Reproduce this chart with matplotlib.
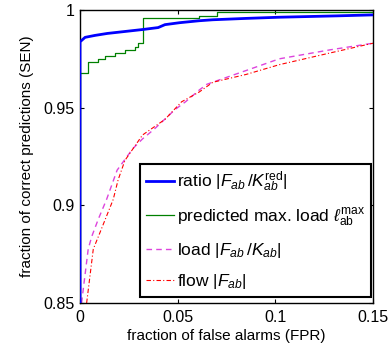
import matplotlib
matplotlib.use("Agg")
import matplotlib.pyplot as plt

plt.rcParams['font.family'] = ['Liberation Sans', 'DejaVu Sans']
plt.rcParams['mathtext.fontset'] = 'custom'
plt.rcParams['mathtext.rm'] = 'Liberation Sans'
plt.rcParams['mathtext.it'] = 'Liberation Sans:italic'
plt.rcParams['mathtext.bf'] = 'Liberation Sans:bold'

# ratio |F_ab / K_ab^red|
ratio_x = [0.0, 0.0, 0.0026, 0.0077, 0.014, 0.023, 0.032, 0.040, 0.0435, 0.051, 0.061, 0.068, 0.085, 0.102, 0.1315, 0.15]
ratio_y = [0.85, 0.9837, 0.986, 0.987, 0.988, 0.989, 0.990, 0.991, 0.9925, 0.9935, 0.9945, 0.995, 0.9957, 0.9963, 0.997, 0.9975]

# predicted max. load (step curve)
pred_x = [0.0, 0.0, 0.004, 0.004, 0.009, 0.009, 0.013, 0.013, 0.018, 0.018, 0.023, 0.023, 0.028, 0.028, 0.0297, 0.0297, 0.032, 0.032, 0.061, 0.061, 0.070, 0.070, 0.15]
pred_y = [0.85, 0.968, 0.968, 0.9735, 0.9735, 0.975, 0.975, 0.9765, 0.9765, 0.978, 0.978, 0.9796, 0.9796, 0.981, 0.981, 0.983, 0.983, 0.9960, 0.9960, 0.997, 0.997, 0.9988, 0.9988]

# load |F_ab / K_ab|
load_x = [0.0008, 0.0042, 0.006, 0.0094, 0.0136, 0.019, 0.027, 0.032, 0.038, 0.0486, 0.054, 0.061, 0.065, 0.085, 0.102, 0.128, 0.15]
load_y = [0.85, 0.8776, 0.884, 0.893, 0.903, 0.918, 0.929, 0.934, 0.939, 0.949, 0.953, 0.959, 0.962, 0.969, 0.975, 0.9796, 0.983]

# flow |F_ab|
flow_x = [0.0034, 0.0068, 0.0102, 0.0136, 0.017, 0.0195, 0.023, 0.032, 0.0435, 0.052, 0.061, 0.068, 0.085, 0.102, 0.128, 0.15]
flow_y = [0.85, 0.8776, 0.886, 0.8945, 0.903, 0.913, 0.923, 0.936, 0.944, 0.953, 0.958, 0.963, 0.967, 0.972, 0.978, 0.983]

xticks = [0, 0.05, 0.1, 0.15]
xticklabels = ['0', '0.05', '0.1', '0.15']
yticks = [0.85, 0.9, 0.95, 1.0]
yticklabels = ['0.85', '0.9', '0.95', '1']

fig = plt.figure(figsize=(3.92, 3.54), dpi=100)
ax = fig.add_axes([80/392, 1-303/354, 293/392, 293/354])

ax.plot(ratio_x, ratio_y, color='#0000ff', lw=2.0, label=r'ratio $|F_{ab}\,/K_{ab}^{\mathrm{red}}|$', zorder=4)
ax.plot(pred_x, pred_y, color='#008000', lw=0.9, label=r'predicted max. load $\ell_{\mathrm{ab}}^{\mathrm{max}}$', zorder=3)
ax.plot(load_x, load_y, color='#dd44dd', lw=1.0, ls=(0, (4, 3)), label=r'load $|F_{ab}\,/K_{ab}|$', zorder=2)
ax.plot(flow_x, flow_y, color='#ff0000', lw=0.8, ls=(0, (4, 2, 1, 2)), label=r'flow $|F_{ab}|$', zorder=2)

ax.set_xlim(0, 0.15)
ax.set_ylim(0.85, 1.0)
ax.set_xticks(xticks)
ax.set_xticklabels(xticklabels)
ax.set_yticks(yticks)
ax.set_yticklabels(yticklabels)
ax.tick_params(direction='in', top=True, right=True, length=3, labelsize=11.5, width=0.8)
ax.tick_params(axis='x', pad=5)
ax.tick_params(axis='y', pad=4)
for s in ax.spines.values():
    s.set_linewidth(1.0)

ax.set_xlabel('fraction of false alarms (FPR)', fontsize=11)
ax.set_ylabel('fraction of correct predictions (SEN)', fontsize=11)
ax.xaxis.set_label_coords(0.5, (303 - 329) / 293)
ax.yaxis.set_label_coords((34 - 80) / 293, 0.5)

leg = ax.legend(loc='lower right', bbox_to_anchor=(0.993, 0.02), borderaxespad=0,
                fontsize=12.5, frameon=True, fancybox=False, framealpha=1,
                edgecolor='black', handlelength=1.6, handletextpad=0.15,
                labelspacing=0.7, borderpad=0.35)
leg.get_frame().set_linewidth(1.5)

fig.savefig('out.png', dpi=100)
